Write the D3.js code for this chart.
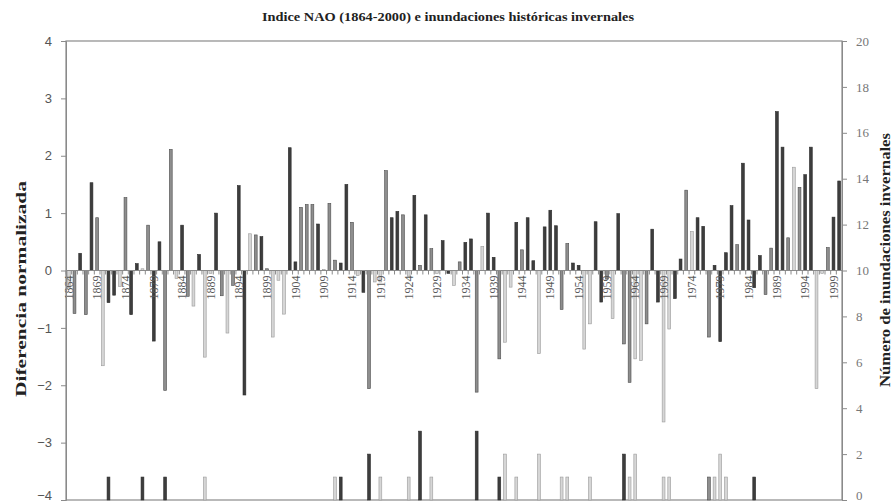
<!DOCTYPE html>
<html>
<head>
<meta charset="utf-8">
<script src="https://cdn.jsdelivr.net/npm/d3@7"></script>
<style>
	body { margin: 0; background: #fff; }
	.titulo { font-family: "Liberation Serif", serif; font-weight: bold; }
</style>
</head>
<body>
<div class="canva"></div>
<script>
// años 1864-2000
const years = d3.range(1864, 2001);

// indice NAO invernal
const nao = [
	-0.3, -0.75, 0.3, -0.77, 1.53, 0.92, -1.66, -0.56, -0.43, -0.28, // 1864-1873
	1.27, -0.77, 0.12, 0.03, 0.79, -1.23, 0.5, -2.09, 2.11, -0.14, // 1874-1883
	0.79, -0.45, -0.62, 0.28, -1.51, -0.05, 1.0, -0.44, -1.09, -0.26, // 1884-1893
	1.48, -2.17, 0.64, 0.62, 0.59, 0.03, -1.16, -0.17, -0.76, 2.14, // 1894-1903
	0.15, 1.1, 1.15, 1.15, 0.81, 0.02, 1.17, 0.18, 0.13, 1.5, // 1904-1913
	0.84, -0.09, -0.38, -2.06, -0.2, -0.2, 1.74, 0.92, 1.03, 0.97, // 1914-1923
	-0.1, 1.31, 0.09, 0.97, 0.38, -0.05, 0.52, -0.05, -0.26, 0.15, // 1924-1933
	0.49, 0.55, -2.12, 0.42, 1.0, 0.23, -1.54, -1.25, -0.29, 0.84, // 1934-1943
	0.36, 0.92, 0.17, -1.45, 0.76, 1.05, 0.78, -0.68, 0.47, 0.13, // 1944-1953
	0.09, -1.37, -0.93, 0.85, -0.55, -0.15, -0.84, 0.99, -1.28, -1.95, // 1954-1963
	-1.54, -1.57, -0.93, 0.72, -0.55, -2.64, -1.02, -0.49, 0.2, 1.4, // 1964-1973
	0.68, 0.92, 0.77, -1.16, 0.09, -1.24, 0.31, 1.13, 0.45, 1.87, // 1974-1983
	0.88, -0.3, 0.26, -0.42, 0.39, 2.77, 2.15, 0.57, 1.8, 1.45, // 1984-1993
	1.67, 2.15, -2.06, -0.05, 0.4, 0.93, 1.56 // 1994-2000
];

// tono de cada barra: o = oscuro, m = medio, c = claro
const naoTono = [
	"c", "m", "o", "m", "o", "m", "c", "o", "o", "c", // 1864-1873
	"m", "o", "o", "c", "m", "o", "o", "m", "m", "c", // 1874-1883
	"o", "m", "c", "o", "c", "c", "o", "m", "c", "m", // 1884-1893
	"o", "o", "c", "m", "o", "m", "c", "c", "c", "o", // 1894-1903
	"o", "m", "m", "m", "o", "c", "m", "m", "o", "o", // 1904-1913
	"m", "c", "o", "m", "c", "c", "m", "o", "o", "m", // 1914-1923
	"c", "o", "m", "o", "m", "c", "o", "o", "c", "m", // 1924-1933
	"o", "o", "m", "c", "o", "o", "m", "c", "c", "o", // 1934-1943
	"m", "o", "o", "c", "o", "o", "o", "m", "m", "o", // 1944-1953
	"o", "c", "c", "o", "o", "m", "c", "o", "m", "m", // 1954-1963
	"c", "c", "m", "o", "o", "c", "c", "o", "o", "m", // 1964-1973
	"c", "o", "o", "m", "o", "o", "o", "o", "m", "o", // 1974-1983
	"o", "o", "o", "m", "m", "o", "o", "m", "c", "m", // 1984-1993
	"o", "o", "c", "c", "m", "o", "o" // 1994-2000
];

// inundaciones historicas invernales
const floodYears = [1871, 1877, 1881, 1888, 1911, 1912, 1917, 1919, 1924, 1926,
	1928, 1936, 1940, 1941, 1943, 1947, 1951, 1952, 1956, 1962,
	1963, 1964, 1969, 1970, 1977, 1978, 1979, 1980, 1985];
const floodCount = [1, 1, 1, 1, 1, 1, 2, 1, 1, 3,
	1, 3, 1, 2, 1, 2, 1, 1, 1, 2,
	1, 2, 1, 1, 1, 1, 2, 1, 1];
const floodTono = ["o", "o", "o", "c", "c", "o", "o", "c", "c", "o",
	"c", "o", "o", "c", "c", "c", "c", "c", "c", "o",
	"c", "c", "c", "c", "m", "c", "c", "c", "o"];

const leftTicks = [-4, -3, -2, -1, 0, 1, 2, 3, 4];
const rightTicks = [0, 2, 4, 6, 8, 10, 12, 14, 16, 18, 20];
const labelYears = years.filter((d) => (d - 1864) % 5 === 0);

const width = 893, height = 504;
const margin = { top: 41, right: 51, bottom: 4, left: 66 };

const fills = { o: "#3d3d3d", m: "#8e8e8e", c: "#d6d6d6" };
const strokes = { o: "#2b2b2b", m: "#4d4d4d", c: "#9a9a9a" };

const svg = d3.select(".canva")
	.append("svg")
	.attr("width", width)
	.attr("height", height);

const x = d3.scaleBand()
	.domain(years)
	.range([margin.left, width - margin.right])
	.paddingInner(0.5)
	.paddingOuter(0.25);

const yL = d3.scaleLinear().domain([-4, 4]).range([height - margin.bottom, margin.top]);
const yR = d3.scaleLinear().domain([0, 20]).range([height - margin.bottom, margin.top]);

// marco
svg.append("rect")
	.attr("x", margin.left)
	.attr("y", margin.top)
	.attr("width", width - margin.left - margin.right)
	.attr("height", height - margin.top - margin.bottom)
	.attr("fill", "none")
	.attr("stroke", "#8a8a8a")
	.attr("stroke-width", 1.2);

// barras NAO
svg.selectAll("rect.nao")
	.data(years)
	.enter()
	.append("rect")
	.attr("class", "nao")
	.attr("x", (d) => x(d))
	.attr("width", x.bandwidth())
	.attr("y", (d, i) => Math.min(yL(nao[i]), yL(0)))
	.attr("height", (d, i) => Math.abs(yL(nao[i]) - yL(0)))
	.attr("fill", (d, i) => fills[naoTono[i]])
	.attr("stroke", (d, i) => strokes[naoTono[i]])
	.attr("stroke-width", 0.6);

// barras de inundaciones (eje derecho)
svg.selectAll("rect.flood")
	.data(floodYears)
	.enter()
	.append("rect")
	.attr("class", "flood")
	.attr("x", (d) => x(d))
	.attr("width", x.bandwidth())
	.attr("y", (d, i) => yR(floodCount[i]))
	.attr("height", (d, i) => yR(0) - yR(floodCount[i]))
	.attr("fill", (d, i) => fills[floodTono[i]])
	.attr("stroke", (d, i) => strokes[floodTono[i]])
	.attr("stroke-width", 0.6);

// linea del cero con marcas por año
const zero = svg.append("g").attr("transform", `translate(0,${yL(0)})`);
zero.append("line")
	.attr("x1", margin.left)
	.attr("x2", width - margin.right)
	.attr("stroke", "#8a8a8a")
	.attr("stroke-width", 1.2);
zero.selectAll("line.tk")
	.data(years)
	.enter()
	.append("line")
	.attr("class", "tk")
	.attr("x1", (d) => x(d) - x.step() * x.paddingInner() / 2)
	.attr("x2", (d) => x(d) - x.step() * x.paddingInner() / 2)
	.attr("y1", 0)
	.attr("y2", 4)
	.attr("stroke", "#8a8a8a");
zero.selectAll("text")
	.data(labelYears)
	.enter()
	.append("text")
	.attr("transform", (d) => `translate(${x(d) + x.bandwidth() / 2},5) rotate(-90)`)
	.attr("dy", "0.35em")
	.attr("text-anchor", "end")
	.attr("font-family", "Liberation Serif, serif")
	.attr("font-size", 12)
	.attr("fill", "#5a5a5a")
	.text((d) => d);

// eje izquierdo
const axL = svg.append("g")
	.attr("transform", `translate(${margin.left},0)`)
	.call(d3.axisLeft(yL).tickValues(leftTicks).tickSize(5).tickPadding(9));
axL.select(".domain").attr("stroke", "#8a8a8a");
axL.selectAll(".tick line").attr("stroke", "#8a8a8a");
axL.selectAll(".tick text")
	.attr("font-family", "Liberation Sans, sans-serif")
	.attr("font-size", 13)
	.attr("fill", "#555");
// la etiqueta inferior queda en el borde: subirla un poco
axL.selectAll(".tick text").filter((d) => d === -4).attr("dy", "-0.05em");

// eje derecho
const axR = svg.append("g")
	.attr("transform", `translate(${width - margin.right},0)`)
	.call(d3.axisRight(yR).tickValues(rightTicks).tickSize(5).tickPadding(9));
axR.select(".domain").attr("stroke", "#8a8a8a");
axR.selectAll(".tick line").attr("stroke", "#8a8a8a");
axR.selectAll(".tick text")
	.attr("font-family", "Liberation Serif, serif")
	.attr("font-size", 13)
	.attr("fill", "#777");
axR.selectAll(".tick text").filter((d) => d === 0).attr("dy", "-0.05em");

// titulos
svg.append("text")
	.attr("class", "titulo")
	.attr("x", 448)
	.attr("y", 21)
	.attr("text-anchor", "middle")
	.attr("font-size", 13)
	.attr("textLength", 372)
	.attr("lengthAdjust", "spacingAndGlyphs")
	.attr("fill", "#222")
	.text("Indice NAO (1864-2000) e inundaciones históricas invernales");

svg.append("text")
	.attr("class", "titulo")
	.attr("transform", "translate(26,289) rotate(-90)")
	.attr("text-anchor", "middle")
	.attr("font-size", 15)
	.attr("textLength", 216)
	.attr("lengthAdjust", "spacingAndGlyphs")
	.attr("fill", "#222")
	.text("Diferencia normalizada");

svg.append("text")
	.attr("class", "titulo")
	.attr("transform", "translate(890,260) rotate(-90)")
	.attr("text-anchor", "middle")
	.attr("font-size", 15)
	.attr("textLength", 254)
	.attr("lengthAdjust", "spacingAndGlyphs")
	.attr("fill", "#222")
	.text("Número de inundaciones invernales");
</script>
</body>
</html>
